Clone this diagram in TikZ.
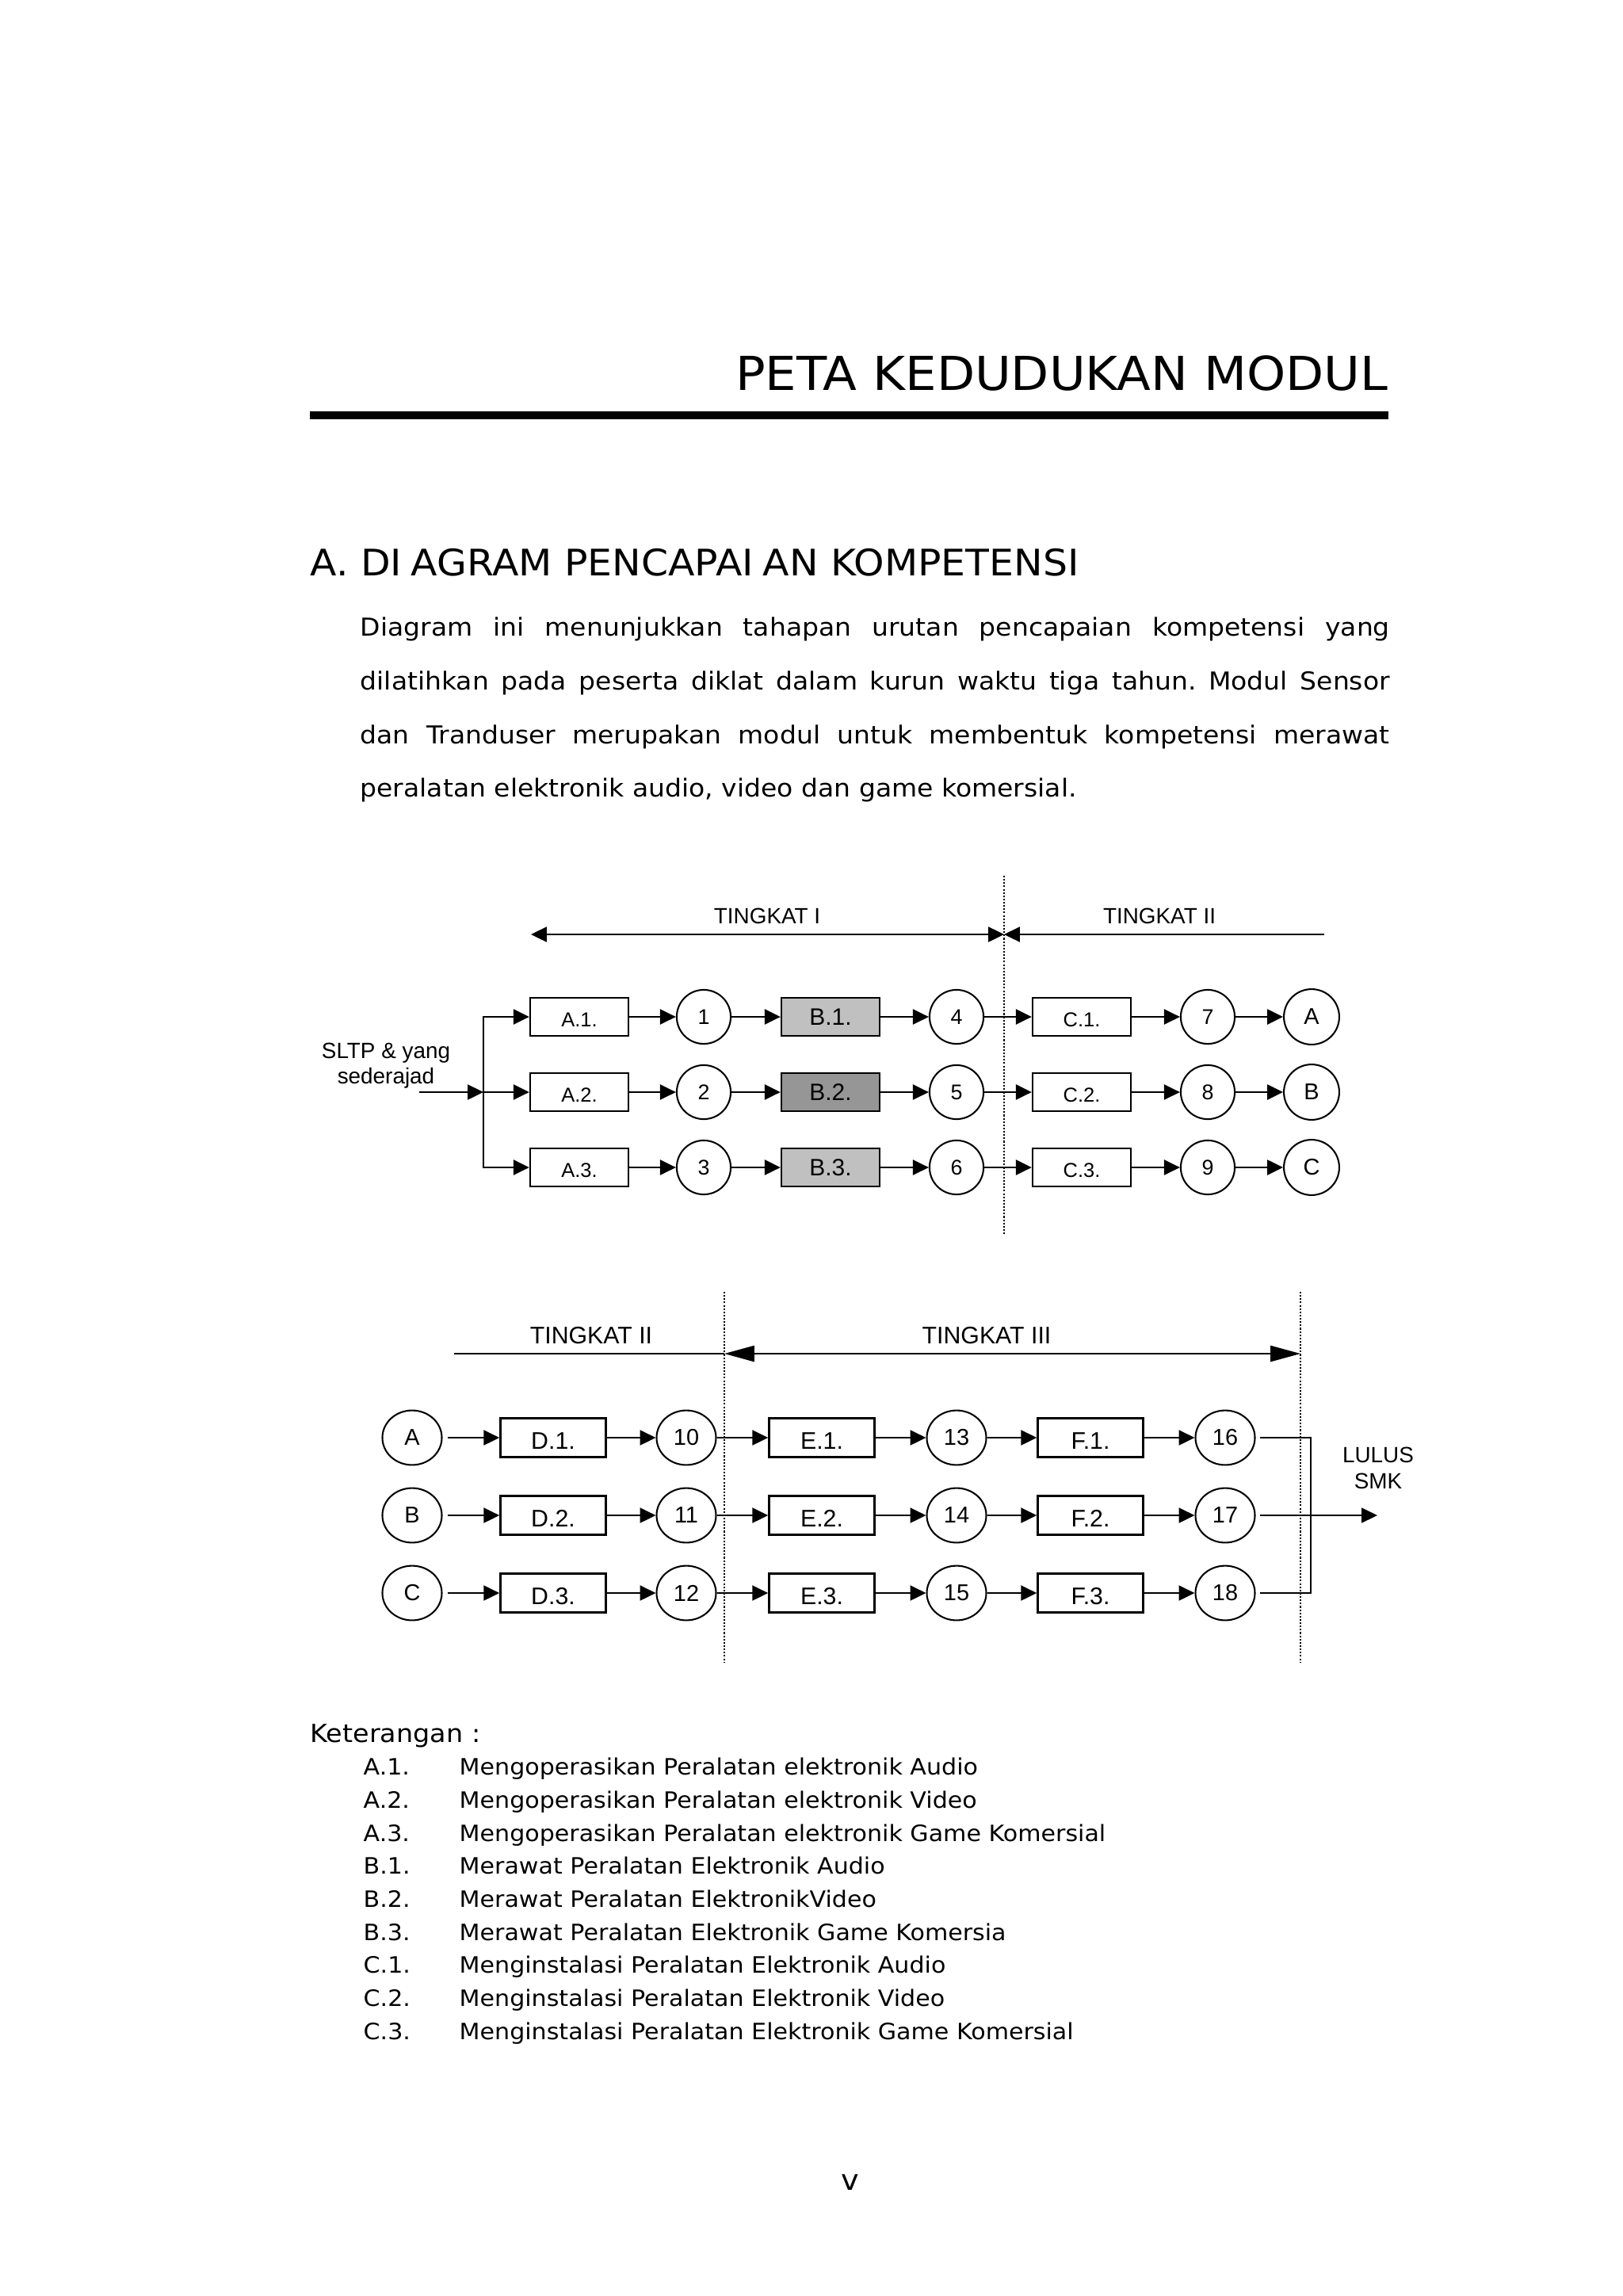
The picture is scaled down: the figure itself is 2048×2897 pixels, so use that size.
\documentclass[tikz,border=0pt]{standalone}
\usepackage{fontspec}
\setmainfont{DejaVu Sans}[FakeStretch=1.06]
\newfontfamily\arialfont{Liberation Sans}
\usetikzlibrary{arrows.meta}
\usetikzlibrary{shapes.geometric}
\definecolor{abumuda}{HTML}{C0C0C0}
\definecolor{abutua}{HTML}{969696}
\frenchspacing

\begin{document}
\begin{tikzpicture}[x=0.2906pt,y=-0.2906pt,
    teks/.style={font=\fontsize{#1}{#1}\selectfont,inner sep=0pt},
    huruf/.style={font=\arialfont\fontsize{#1}{#1}\selectfont},
    kotak/.style={draw,line width=0.7pt,minimum width=36pt,minimum height=14pt,inner sep=0pt},
    bulat/.style={draw,circle,line width=0.6pt,minimum size=19.8pt,inner sep=0pt},
    lonjong/.style={draw,ellipse,line width=0.6pt,minimum width=21.8pt,minimum height=20pt,inner sep=0pt},
    panah/.style={line width=0.75pt,-{Triangle[length=5.8pt,width=5.5pt]}},
    panahdua/.style={line width=0.75pt,{Triangle[length=5.8pt,width=5.5pt]}-{Triangle[length=5.8pt,width=5.5pt]}},
    panahbesar/.style={line width=0.75pt,{Triangle[length=11pt,width=5.8pt]}-{Triangle[length=11pt,width=5.8pt]}},
    tipis/.style={line width=0.55pt},
    titik/.style={line width=0.6pt,dash pattern=on 0.6pt off 0.6pt}]
        \useasboundingbox (0,0) rectangle (2048,2897);
        \fill[white] (0,0) rectangle (2048,2897);

        \node[teks=17.15pt,anchor=base east] (judul) at (1752,493) {PETA KEDUDUKAN MODUL};
        \coordinate (garisa) at (391,524);
        \coordinate (garisb) at (1752,524);
        \draw[line width=2.9pt] (garisa) -- (garisb);
        \node[teks=13.4pt,anchor=base west] (subjudul) at (391,726) {A. DI\kern0.25em AGRAM PENCAPAI\kern0.25em AN KOMPETENSI};

        \node[teks=9.05pt,anchor=base west] (par1) at (454,802) {\makebox[377.5pt][s]{Diagram ini menunjukkan tahapan urutan pencapaian kompetensi yang}};
        \node[teks=9.05pt,anchor=base west] (par2) at (454,870) {\makebox[377.5pt][s]{dilatihkan pada peserta diklat dalam kurun waktu tiga tahun. Modul Sensor}};
        \node[teks=9.05pt,anchor=base west] (par3) at (454,938) {\makebox[377.5pt][s]{dan Tranduser merupakan modul untuk membentuk kompetensi merawat}};
        \node[teks=9.05pt,anchor=base west] (par4) at (454,1005) {peralatan elektronik audio, video dan game komersial.};

        \coordinate (bts1a) at (1267,1105);
        \coordinate (bts1b) at (1267,1558);
        \draw[titik] (bts1a) -- (bts1b);
        \coordinate (t1a) at (670,1179);
        \coordinate (t1b) at (1267,1179);
        \coordinate (t2b) at (1671,1179);
        \draw[panahdua] (t1a) -- (t1b);
        \draw[panah] (t2b) -- (t1b);
        \node[huruf=8.1pt,anchor=base] (tk1) at (968,1165) {TINGKAT I};
        \node[huruf=8.1pt,anchor=base] (tk2) at (1463,1165) {TINGKAT II};

        \foreach \r/\y/\p/\q/\s/\hur/\warna in {1/1283/1/4/7/A/abumuda,2/1378/2/5/8/B/abutua,3/1473/3/6/9/C/abumuda}{
            \node[kotak,huruf=7.4pt,text height=7.3pt,text depth=0pt] (a\r) at (731,\y) {A.\r.};
            \node[bulat,huruf=7.8pt] (na\r) at (888,\y) {\p};
            \node[kotak,fill=\warna,huruf=8.7pt] (b\r) at (1048,\y) {B.\r.};
            \node[bulat,huruf=7.8pt] (nb\r) at (1207,\y) {\q};
            \node[kotak,huruf=7.4pt,text height=7.3pt,text depth=0pt] (c\r) at (1365,\y) {C.\r.};
            \node[bulat,huruf=7.8pt] (nc\r) at (1524,\y) {\s};
            \node[bulat,huruf=8.4pt,minimum size=20.3pt] (l\r) at (1655,\y) {\hur};
            \draw[panah] (a\r) -- (na\r);
            \draw[panah] (na\r) -- (b\r);
            \draw[panah] (b\r) -- (nb\r);
            \draw[panah] (nb\r) -- (c\r);
            \draw[panah] (c\r) -- (nc\r);
            \draw[panah] (nc\r) -- (l\r);
        }
        \node[huruf=8.1pt,anchor=base] (sltp) at (487,1335) {SLTP \& yang};
        \node[huruf=8.1pt,anchor=base] (sedera) at (487,1367) {sederajad};
        \coordinate (masuk) at (529,1378);
        \coordinate (cabang) at (610,1378);
        \draw[panah] (masuk) -- (cabang);
        \draw[panah] (cabang) |- (a1);
        \draw[panah] (cabang) -- (a2);
        \draw[panah] (cabang) |- (a3);

        \coordinate (bts2a) at (914,1630);
        \coordinate (bts2b) at (914,2098);
        \coordinate (bts3a) at (1641,1630);
        \coordinate (bts3b) at (1641,2098);
        \draw[titik] (bts2a) -- (bts2b);
        \draw[titik] (bts3a) -- (bts3b);
        \coordinate (t2c) at (573,1708);
        \coordinate (t2d) at (914,1708);
        \coordinate (t3d) at (1641,1708);
        \draw[line width=0.75pt] (t2c) -- (t2d);
        \draw[panahbesar] (t2d) -- (t3d);
        \node[huruf=8.8pt,anchor=base] (tk2b) at (746,1695) {TINGKAT II};
        \node[huruf=8.8pt,anchor=base] (tk3) at (1245,1695) {TINGKAT III};

        \foreach \r/\y/\hur/\p/\q/\s in {1/1814/A/10/13/16,2/1912/B/11/14/17,3/2010/C/12/15/18}{
            \node[lonjong,huruf=8.4pt] (m\r) at (520,\y) {\hur};
            \node[kotak,minimum width=38.7pt,minimum height=14.2pt,huruf=8.8pt,text height=8.7pt,text depth=0pt] (d\r) at (698,\y) {D.\r.};
            \node[lonjong,huruf=8.4pt] (nd\r) at (866,\y) {\p};
            \node[kotak,minimum width=38.7pt,minimum height=14.2pt,huruf=8.8pt,text height=8.7pt,text depth=0pt] (e\r) at (1037,\y) {E.\r.};
            \node[lonjong,huruf=8.4pt] (ne\r) at (1207,\y) {\q};
            \node[kotak,minimum width=38.7pt,minimum height=14.2pt,huruf=8.8pt,text height=8.7pt,text depth=0pt] (f\r) at (1376,\y) {F.\r.};
            \node[lonjong,huruf=8.4pt] (nf\r) at (1546,\y) {\s};
            \draw[panah,shorten <=2pt] (m\r) -- (d\r);
            \draw[panah] (d\r) -- (nd\r);
            \draw[panah] (nd\r) -- (e\r);
            \draw[panah] (e\r) -- (ne\r);
            \draw[panah] (ne\r) -- (f\r);
            \draw[panah] (f\r) -- (nf\r);
        }
        \coordinate (gabung) at (1654,1912);
        \coordinate (lulus) at (1738,1912);
        \draw[tipis,shorten <=1.5pt,shorten >=1.5pt] (nf1) -| (gabung) |- (nf3);
        \draw[panah,tipis,shorten <=1.5pt] (nf2) -- (lulus);
        \node[huruf=8.1pt,anchor=base] (lls) at (1739,1845) {LULUS};
        \node[huruf=8.1pt,anchor=base] (smk) at (1739,1878) {SMK};

        \node[teks=9.16pt,anchor=base west] (ket) at (391,2198) {Keterangan :};
        \foreach \k/\t [count=\i] in {A.1./Mengoperasikan Peralatan elektronik Audio,A.2./Mengoperasikan Peralatan elektronik Video,A.3./Mengoperasikan Peralatan elektronik Game Komersial,B.1./Merawat Peralatan Elektronik Audio,B.2./Merawat Peralatan ElektronikVideo,B.3./Merawat Peralatan Elektronik Game Komersia,C.1./Menginstalasi Peralatan Elektronik Audio,C.2./Menginstalasi Peralatan Elektronik Video,C.3./Menginstalasi Peralatan Elektronik Game Komersial}{
            \node[teks=8.25pt,anchor=base west] (kode\i) at (458,{2198+41.67*\i}) {\k};
            \node[teks=8.25pt,anchor=base west] (isi\i) at (579,{2198+41.67*\i}) {\t};
        }

        \node[teks=10.5pt,anchor=base] (hal) at (1073,2763) {v};
    \end{tikzpicture}
\end{document}
